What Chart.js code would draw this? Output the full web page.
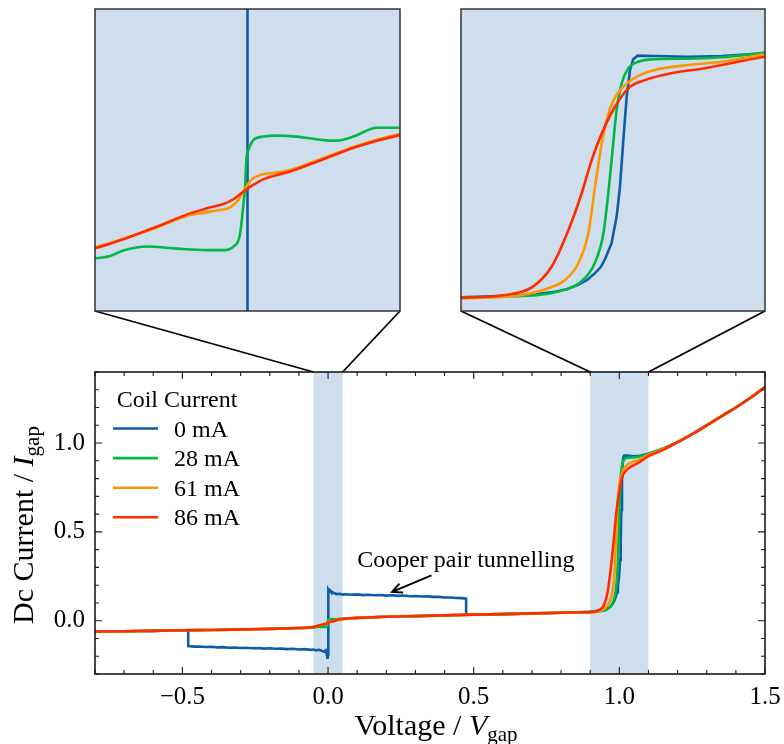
<!DOCTYPE html>
<html>
<head>
<meta charset="utf-8">
<script src="https://cdn.jsdelivr.net/npm/chart.js@4/dist/chart.umd.min.js"></script>
<style>
  html, body { margin: 0; padding: 0; background: #fff; }
  #wrap { position: relative; width: 784px; height: 744px; overflow: hidden; }
  #wrap canvas { position: absolute; }
</style>
</head>
<body>
<div id="wrap">
  <canvas id="main" width="784" height="744"></canvas>
  <canvas id="zoomLow"></canvas>
  <canvas id="zoomGap"></canvas>
</div>
<script>
// ---- I–V data, voltage in units of V_gap, current in units of I_gap ----
const coilCurrents = ['0 mA', '28 mA', '61 mA', '86 mA'];

// normal-state branch shared by every coil current
const vLow = [-0.8, -0.7, -0.6, -0.5];
const iLow = [-0.062, -0.059, -0.057, -0.054];
const vNeg = [-0.4, -0.3, -0.2, -0.15];
const iNeg = [-0.052, -0.049, -0.046, -0.044];
const vPos = [0.1, 0.15, 0.2, 0.3, 0.4];
const iPos = [0.016, 0.019, 0.022, 0.026, 0.030];
const vMid = [0.5, 0.6, 0.7, 0.8];
const iMid = [0.034, 0.037, 0.041, 0.045];
const vHigh = [1.2, 1.25, 1.3, 1.35, 1.4, 1.45, 1.5];
const iHigh = [1.005, 1.05, 1.10, 1.15, 1.20, 1.255, 1.315];

// 0 mA: supercurrent loop (Cooper pair tunnelling) between -0.48 and 0.474
const blueLoopV = [-0.48, -0.48, -0.46, -0.44, -0.42, -0.40, -0.38, -0.36, -0.34, -0.32, -0.30, -0.28, -0.26, -0.24, -0.22, -0.20, -0.18, -0.16, -0.14, -0.12, -0.10, -0.08, -0.06,
  -0.05, -0.04, -0.03, -0.02, -0.012, -0.008, -0.005, -0.003, -0.002, -0.001, 0, 0,
  0.002, 0.004, 0.007, 0.01, 0.015, 0.02, 0.03, 0.04, 0.05, 0.06,
  0.08, 0.10, 0.12, 0.14, 0.16, 0.18, 0.20, 0.22, 0.24, 0.26, 0.28, 0.30, 0.32, 0.34, 0.36, 0.38, 0.40, 0.42, 0.44, 0.46, 0.474, 0.474];
const blueLoopI = [-0.0535, -0.143, -0.146, -0.145, -0.148, -0.147, -0.150, -0.149, -0.152, -0.151, -0.154, -0.152, -0.155, -0.154, -0.157, -0.155, -0.158, -0.157, -0.160, -0.158, -0.162, -0.160, -0.164,
  -0.162, -0.167, -0.164, -0.170, -0.175, -0.168, -0.185, -0.200, -0.180, -0.215, -0.190, 0.170,
  0.176, 0.168, 0.171, 0.163, 0.160, 0.156, 0.150, 0.152, 0.147, 0.149,
  0.146, 0.148, 0.144, 0.146, 0.143, 0.145, 0.141, 0.143, 0.140, 0.142, 0.138, 0.139, 0.136, 0.137, 0.134, 0.134, 0.131, 0.131, 0.128, 0.127, 0.124, 0.034];

// sub-gap region around zero bias
const greenZeroV = [-0.1, -0.075, -0.06, -0.05, -0.0451, -0.0407, -0.0331, -0.0243, -0.0134, -0.0079, -0.0046, -0.0025, -0.0014, -0.0008, -0.0003, 0.0003, 0.0019, 0.0052, 0.0096, 0.0161, 0.0249, 0.0292, 0.0347, 0.0402, 0.0423, 0.05, 0.06, 0.075];
const greenZeroI = [-0.041, -0.0405, -0.040, -0.0391, -0.0381, -0.0360, -0.0344, -0.0351, -0.0358, -0.0358, -0.0344, -0.0298, -0.0185, -0.0106, 0.0013, 0.0040, 0.0079, 0.0093, 0.0097, 0.0093, 0.0079, 0.0077, 0.0093, 0.0122, 0.0128, 0.0128, 0.0130, 0.0142];
const orangeZeroV = [-0.1, -0.075, -0.06, -0.05, -0.0407, -0.0298, -0.0189, -0.0134, -0.0101, -0.0057, -0.0030, -0.0008, 0.0014, 0.0041, 0.0096, 0.0139, 0.0249, 0.0358, 0.05, 0.06, 0.075];
const orangeZeroI = [-0.041, -0.039, -0.0370, -0.0347, -0.0313, -0.0268, -0.0219, -0.0208, -0.0201, -0.0188, -0.0159, -0.0113, -0.0077, -0.0060, -0.0050, -0.0040, 0.0008, 0.0056, 0.0103, 0.0120, 0.0138];
const redZeroV = [-0.1, -0.075, -0.06, -0.05, -0.0407, -0.0298, -0.0189, -0.0134, -0.0079, -0.0046, -0.0014, 0.0019, 0.0052, 0.0139, 0.0249, 0.0358, 0.05, 0.06, 0.075];
const redZeroI = [-0.041, -0.039, -0.0372, -0.0351, -0.0315, -0.0265, -0.0212, -0.0192, -0.0175, -0.0156, -0.0126, -0.0099, -0.0077, -0.0046, 0.0003, 0.0053, 0.0099, 0.0118, 0.0138];

// gap voltage region
const blueGapV = [0.85, 0.9, 0.92, 0.94, 0.95, 0.962, 0.97, 0.977, 0.983, 0.988, 0.992, 0.995, 0.999, 1.0024, 1.0046, 1.0068, 1.009, 1.0112, 1.0133, 1.0162, 1.0276, 1.0494, 1.0713, 1.1, 1.15];
const blueGapI = [0.048, 0.050, 0.054, 0.058, 0.062, 0.070, 0.080, 0.095, 0.113, 0.137, 0.160, 0.192, 0.246, 0.344, 0.453, 0.623, 0.781, 0.878, 0.917, 0.930, 0.929, 0.926, 0.929, 0.939, 0.968];
const greenGapV = [0.85, 0.9, 0.93, 0.951, 0.968, 0.979, 0.988, 0.9937, 0.9969, 0.9991, 1.0024, 1.0057, 1.0101, 1.0166, 1.0276, 1.0494, 1.0713, 1.1, 1.15];
const greenGapI = [0.047, 0.0485, 0.053, 0.058, 0.077, 0.107, 0.174, 0.283, 0.429, 0.550, 0.732, 0.829, 0.884, 0.908, 0.917, 0.919, 0.924, 0.941, 0.970];
const orangeGapV = [0.85, 0.9, 0.94, 0.9575, 0.9685, 0.9772, 0.9838, 0.9882, 0.9926, 0.9960, 0.9995, 1.0040, 1.0090, 1.0150, 1.0276, 1.0494, 1.0713, 1.1, 1.15];
const orangeGapI = [0.0465, 0.047, 0.058, 0.083, 0.113, 0.174, 0.283, 0.453, 0.610, 0.700, 0.758, 0.800, 0.828, 0.852, 0.878, 0.896, 0.908, 0.935, 0.965];
const redGapV = [0.85, 0.9, 0.929, 0.9466, 0.9597, 0.9707, 0.9794, 0.986, 0.9926, 1.0013, 1.0101, 1.021, 1.0385, 1.0604, 1.1, 1.15];
const redGapI = [0.0475, 0.0485, 0.058, 0.086, 0.162, 0.295, 0.429, 0.550, 0.647, 0.744, 0.811, 0.841, 0.866, 0.884, 0.926, 0.962];

// axis limits
const mainVoltageRange = [-0.8, 1.5];
const mainCurrentRange = [-0.3, 1.4];
const zoomWindows = [[-0.05, 0.05], [0.9, 1.1]];
const zoomCurrentRanges = [[-0.06, 0.06], [0, 1.1]];

// ---- styling / layout ----
const colors = ['#0C5DA5', '#00B945', '#FF9500', '#FF2C00'];
const SHADE = '#CEDEED';
const SERIF = "'Liberation Serif', 'Times New Roman', 'DejaVu Serif', serif";
const plotBox = { left: 95, top: 372, right: 765, bottom: 674 };
const insetBoxes = [
  { left: 95, top: 9, right: 400, bottom: 311 },
  { left: 461, top: 9, right: 765, bottom: 311 }
];
const INSET_PAD = 3;

function series(...segments) {
  const out = [];
  segments.forEach(([v, c]) => v.forEach((vv, k) => out.push({ x: vv, y: c[k] })));
  return out;
}

const curves = [
  series([vLow, iLow], [blueLoopV, blueLoopI], [vMid, iMid], [blueGapV, blueGapI], [vHigh, iHigh]),
  series([vLow, iLow], [vNeg, iNeg], [greenZeroV, greenZeroI], [vPos, iPos], [vMid, iMid], [greenGapV, greenGapI], [vHigh, iHigh]),
  series([vLow, iLow], [vNeg, iNeg], [orangeZeroV, orangeZeroI], [vPos, iPos], [vMid, iMid], [orangeGapV, orangeGapI], [vHigh, iHigh]),
  series([vLow, iLow], [vNeg, iNeg], [redZeroV, redZeroI], [vPos, iPos], [vMid, iMid], [redGapV, redGapI], [vHigh, iHigh])
];

// later coil currents are painted on top of earlier ones
function makeDatasets(clip) {
  return curves.map((pts, k) => ({
    label: coilCurrents[k],
    data: pts,
    order: curves.length - 1 - k,
    borderColor: colors[k],
    backgroundColor: colors[k],
    borderWidth: 2.6,
    pointRadius: 0,
    fill: false,
    tension: 0,
    cubicInterpolationMode: k === 0 ? 'default' : 'monotone',
    clip: clip
  }));
}

Chart.defaults.font.family = SERIF;
Chart.defaults.color = '#000';

const isMajor = v => Math.abs(v * 2 - Math.round(v * 2)) < 1e-6;
const fmt = v => {
  const r = Math.abs(v) < 1e-9 ? 0 : v;
  return r.toFixed(1).replace('-', '\u2212');
};

// shaded voltage windows that the insets magnify
const bandPlugin = {
  id: 'bands',
  beforeDatasetsDraw(chart) {
    const { ctx, chartArea: a, scales: { x } } = chart;
    ctx.save();
    ctx.fillStyle = SHADE;
    zoomWindows.forEach(([lo, hi]) => {
      const l = x.getPixelForValue(lo), r = x.getPixelForValue(hi);
      ctx.fillRect(l, a.top, r - l, a.bottom - a.top);
    });
    ctx.restore();
  }
};

// frame with inward ticks on all four sides
const framePlugin = {
  id: 'frameTicks',
  afterDatasetsDraw(chart) {
    const { ctx, chartArea: a, scales: { x, y } } = chart;
    ctx.save();
    ctx.strokeStyle = '#1a1a1a';
    ctx.lineWidth = 1.1;
    ctx.beginPath();
    x.ticks.forEach(t => {
      const px = x.getPixelForValue(t.value);
      const len = isMajor(t.value) ? 7 : 4;
      ctx.moveTo(px, a.bottom); ctx.lineTo(px, a.bottom - len);
      ctx.moveTo(px, a.top); ctx.lineTo(px, a.top + len);
    });
    y.ticks.forEach(t => {
      const py = y.getPixelForValue(t.value);
      const len = isMajor(t.value) ? 7 : 4;
      ctx.moveTo(a.left, py); ctx.lineTo(a.left + len, py);
      ctx.moveTo(a.right, py); ctx.lineTo(a.right - len, py);
    });
    ctx.stroke();
    ctx.lineWidth = 1.6;
    ctx.strokeRect(a.left, a.top, a.right - a.left, a.bottom - a.top);
    ctx.restore();
  }
};

function drawRich(ctx, parts, cx, baseY) {
  const widths = parts.map(p => { ctx.font = p.font; return ctx.measureText(p.t).width; });
  const total = widths.reduce((s, w) => s + w, 0);
  let xx = cx - total / 2;
  parts.forEach((p, k) => {
    ctx.font = p.font;
    ctx.fillText(p.t, xx, baseY + (p.dy || 0));
    xx += widths[k];
  });
}

// axis titles, legend, annotation and zoom connectors
const decorPlugin = {
  id: 'decor',
  afterDraw(chart) {
    const { ctx, chartArea: a, scales: { x, y } } = chart;
    ctx.save();
    ctx.fillStyle = '#000';
    ctx.textAlign = 'left';
    ctx.textBaseline = 'alphabetic';

    // x title
    drawRich(ctx, [
      { t: 'Voltage / ', font: `30px ${SERIF}` },
      { t: 'V', font: `italic 30px ${SERIF}` },
      { t: 'gap', font: `21px ${SERIF}`, dy: 6 }
    ], 436, 735);

    // y title
    ctx.save();
    ctx.translate(33, 525);
    ctx.rotate(-Math.PI / 2);
    drawRich(ctx, [
      { t: 'Dc Current / ', font: `30px ${SERIF}` },
      { t: 'I', font: `italic 30px ${SERIF}` },
      { t: 'gap', font: `21px ${SERIF}`, dy: 6 }
    ], 0, 0);
    ctx.restore();

    // legend
    ctx.font = `24px ${SERIF}`;
    ctx.textAlign = 'center';
    ctx.fillText('Coil Current', 177, 407);
    ctx.textAlign = 'left';
    chart.data.datasets.forEach((ds, k) => {
      const yy = 428.5 + k * 29.6;
      ctx.strokeStyle = ds.borderColor;
      ctx.lineWidth = 2.6;
      ctx.beginPath();
      ctx.moveTo(113, yy); ctx.lineTo(158, yy);
      ctx.stroke();
      ctx.fillText(ds.label, 174, yy + 8);
    });

    // annotation
    ctx.font = `24px ${SERIF}`;
    ctx.fillText('Cooper pair tunnelling', x.getPixelForValue(0.1), y.getPixelForValue(0.305));
    const tx = x.getPixelForValue(0.355), ty = y.getPixelForValue(0.255);
    const hx = x.getPixelForValue(0.22), hy = y.getPixelForValue(0.162);
    const ang = Math.atan2(hy - ty, hx - tx);
    ctx.strokeStyle = '#000';
    ctx.lineWidth = 2;
    ctx.beginPath();
    ctx.moveTo(tx, ty); ctx.lineTo(hx, hy);
    ctx.moveTo(hx - 11 * Math.cos(ang - 0.45), hy - 11 * Math.sin(ang - 0.45));
    ctx.lineTo(hx, hy);
    ctx.lineTo(hx - 11 * Math.cos(ang + 0.45), hy - 11 * Math.sin(ang + 0.45));
    ctx.stroke();

    // connectors from inset corners to the shaded windows
    ctx.lineWidth = 1.8;
    ctx.strokeStyle = '#000';
    ctx.beginPath();
    zoomWindows.forEach(([lo, hi], k) => {
      const b = insetBoxes[k];
      ctx.moveTo(b.left, b.bottom); ctx.lineTo(x.getPixelForValue(lo), a.top);
      ctx.moveTo(b.right, b.bottom); ctx.lineTo(x.getPixelForValue(hi), a.top);
    });
    ctx.stroke();
    ctx.restore();
  }
};

const pad = { top: 372, right: 19, left: 0, bottom: 0 };
const mainChart = new Chart(document.getElementById('main'), {
  type: 'line',
  data: { datasets: makeDatasets(undefined) },
  options: {
    responsive: false,
    animation: false,
    devicePixelRatio: 1,
    layout: { padding: pad },
    plugins: { legend: { display: false }, tooltip: { enabled: false } },
    scales: {
      x: {
        type: 'linear',
        min: mainVoltageRange[0], max: mainVoltageRange[1],
        grid: { display: false, drawTicks: false },
        border: { display: false },
        afterFit: s => { s.height = 70; s.paddingLeft = 0; s.paddingRight = 0; },
        ticks: {
          stepSize: 0.1, autoSkip: false, maxRotation: 0, minRotation: 0,
          padding: 8, color: '#000',
          font: { family: SERIF, size: 25 },
          callback: v => isMajor(v) ? fmt(v) : ''
        }
      },
      y: {
        type: 'linear',
        min: mainCurrentRange[0], max: mainCurrentRange[1],
        grid: { display: false, drawTicks: false },
        border: { display: false },
        afterFit: s => { s.width = 95; s.paddingTop = 0; s.paddingBottom = 0; },
        ticks: {
          stepSize: 0.1, autoSkip: false,
          padding: 10, color: '#000',
          font: { family: SERIF, size: 25 },
          callback: v => isMajor(v) ? fmt(v) : ''
        }
      }
    }
  },
  plugins: [bandPlugin, framePlugin, decorPlugin]
});

// settle the plot area onto its intended box
for (let pass = 0; pass < 3; pass++) {
  const ca = mainChart.chartArea;
  pad.left = Math.max(0, pad.left + plotBox.left - ca.left);
  pad.right = Math.max(0, pad.right + ca.right - plotBox.right);
  pad.top = Math.max(0, pad.top + plotBox.top - ca.top);
  pad.bottom = Math.max(0, pad.bottom + ca.bottom - plotBox.bottom);
  mainChart.options.layout.padding = { ...pad };
  mainChart.update();
}

// ---- magnified insets ----
const insetBg = {
  id: 'insetBg',
  beforeDatasetsDraw(chart) {
    const { ctx, chartArea: a } = chart;
    ctx.save();
    ctx.fillStyle = SHADE;
    ctx.fillRect(a.left, a.top, a.right - a.left, a.bottom - a.top);
    ctx.restore();
  },
  afterDatasetsDraw(chart) {
    const { ctx, chartArea: a } = chart;
    ctx.save();
    ctx.strokeStyle = '#333';
    ctx.lineWidth = 1.5;
    ctx.strokeRect(a.left, a.top, a.right - a.left, a.bottom - a.top);
    ctx.restore();
  }
};

['zoomLow', 'zoomGap'].forEach((id, k) => {
  const b = insetBoxes[k];
  const cv = document.getElementById(id);
  const w = b.right - b.left + 2 * INSET_PAD, h = b.bottom - b.top + 2 * INSET_PAD;
  cv.width = w; cv.height = h;
  cv.style.left = (b.left - INSET_PAD) + 'px';
  cv.style.top = (b.top - INSET_PAD) + 'px';
  cv.style.width = w + 'px';
  cv.style.height = h + 'px';
  new Chart(cv, {
    type: 'line',
    data: { datasets: makeDatasets(0) },
    options: {
      responsive: false,
      animation: false,
      devicePixelRatio: 1,
      layout: { padding: INSET_PAD },
      plugins: { legend: { display: false }, tooltip: { enabled: false } },
      scales: {
        x: { type: 'linear', display: false, min: zoomWindows[k][0], max: zoomWindows[k][1] },
        y: { type: 'linear', display: false, min: zoomCurrentRanges[k][0], max: zoomCurrentRanges[k][1] }
      }
    },
    plugins: [insetBg]
  });
});
</script>
</body>
</html>
